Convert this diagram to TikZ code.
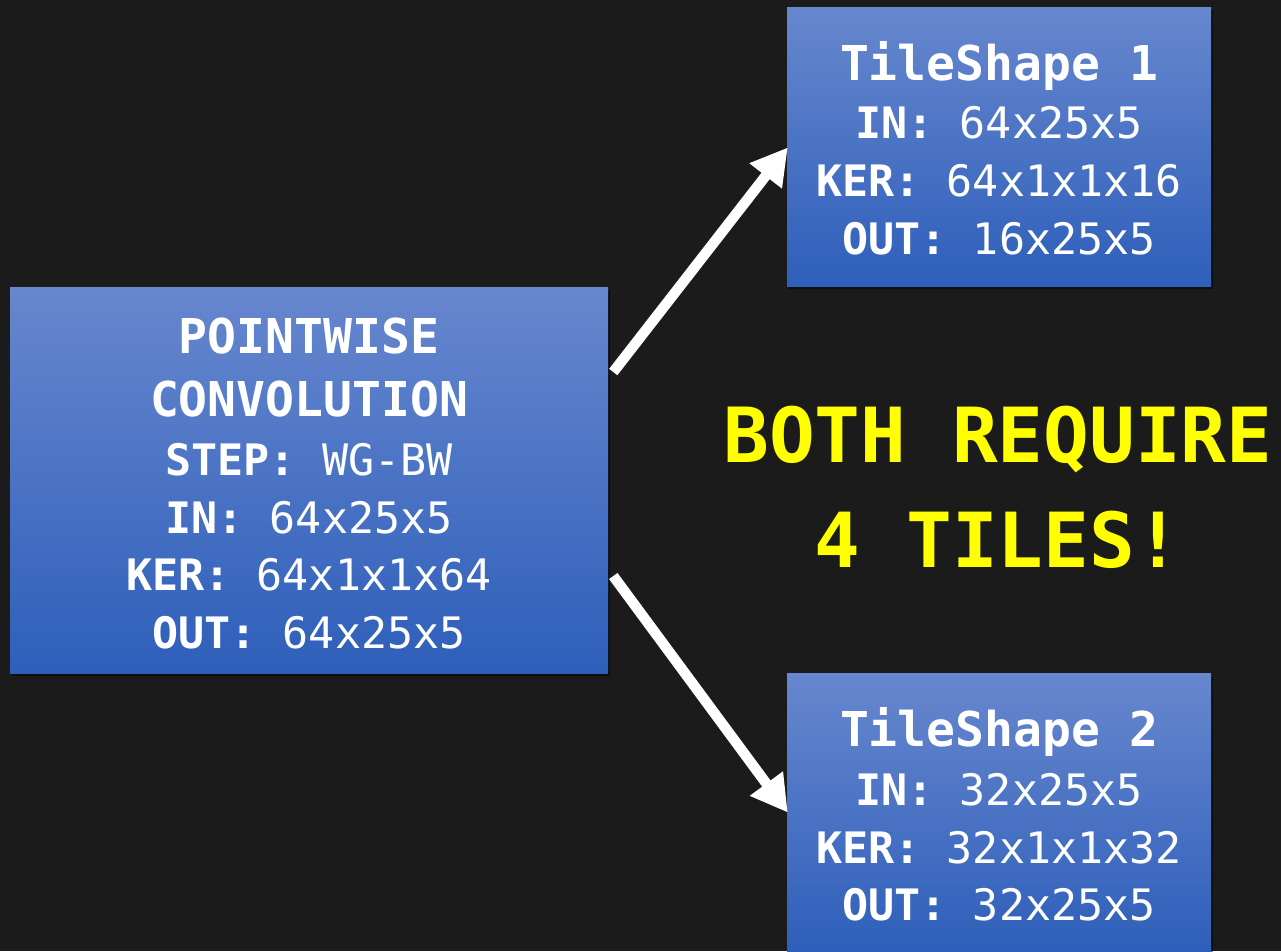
\documentclass[tikz,border=0pt]{standalone}
\usepackage{fontspec}
\setmonofont{DejaVu Sans Mono}
\usetikzlibrary{arrows.meta,calc,shadows}
\definecolor{canvas}{HTML}{1B1B1B}
\definecolor{boxtop}{HTML}{6787CE}
\definecolor{boxbot}{HTML}{2E5FBA}
\definecolor{callout}{HTML}{FFFF00}
\begin{document}
\begin{tikzpicture}[x=0.75pt,y=-0.75pt,
  box/.style={rectangle, inner sep=0pt, top color=boxtop, bottom color=boxbot,
    drop shadow={shadow xshift=1.5pt, shadow yshift=-2.5pt, opacity=0.45, fill=black}},
  bigbox/.style={box, minimum width=448.5pt, minimum height=289.5pt},
  tilebox/.style={box, minimum width=318pt, minimum height=209.25pt},
  ttl/.style={anchor=base, text=white, font=\ttfamily\bfseries\fontsize{36}{36}\selectfont},
  row/.style={anchor=base, text=white, font=\ttfamily\fontsize{32.5}{32.5}\selectfont},
  shout/.style={anchor=base, text=callout, font=\ttfamily\bfseries\fontsize{57}{57}\selectfont},
  link/.style={draw=white, line width=7.8pt, -{Triangle[length=27pt,width=29pt]}},
]
% canvas
\fill[canvas] (0,0) rectangle (1281,951);
\useasboundingbox (0,0) rectangle (1281,951);

% boxes
\node[bigbox] (pw) at (309,480) {};
\node[tilebox] (t1) at (999,146.5) {};
\node[tilebox] (t2) at (999,812.5) {};

% pointwise convolution block
\node[ttl] (pwa) at (309,353) {POINTWISE};
\node[ttl] (pwb) at (309,416) {CONVOLUTION};
\node[row] (pwc) at (309,475) {\textbf{STEP:} WG-BW};
\node[row] (pwd) at (309,533) {\textbf{IN:} 64x25x5};
\node[row] (pwe) at (309,590) {\textbf{KER:} 64x1x1x64};
\node[row] (pwf) at (309,648) {\textbf{OUT:} 64x25x5};

% tile shape 1
\node[ttl] (t1a) at (999,80) {TileShape 1};
\node[row] (t1b) at (999,138) {\textbf{IN:} 64x25x5};
\node[row] (t1c) at (999,196) {\textbf{KER:} 64x1x1x16};
\node[row] (t1d) at (999,254) {\textbf{OUT:} 16x25x5};

% tile shape 2
\node[ttl] (t2a) at (999,746) {TileShape 2};
\node[row] (t2b) at (999,805) {\textbf{IN:} 32x25x5};
\node[row] (t2c) at (999,863) {\textbf{KER:} 32x1x1x32};
\node[row] (t2d) at (999,920) {\textbf{OUT:} 32x25x5};

% callout
\node[shout] (msga) at (998,462) {BOTH REQUIRE};
\node[shout] (msgb) at (998,567) {4 TILES!};

% connectors
\draw[link] ([shift={(5,-108)}]pw.east) -- ([shift={(1,1)}]t1.west);
\draw[link] ([shift={(5,96)}]pw.east) -- ([shift={(1,0)}]t2.west);
\end{tikzpicture}
\end{document}
